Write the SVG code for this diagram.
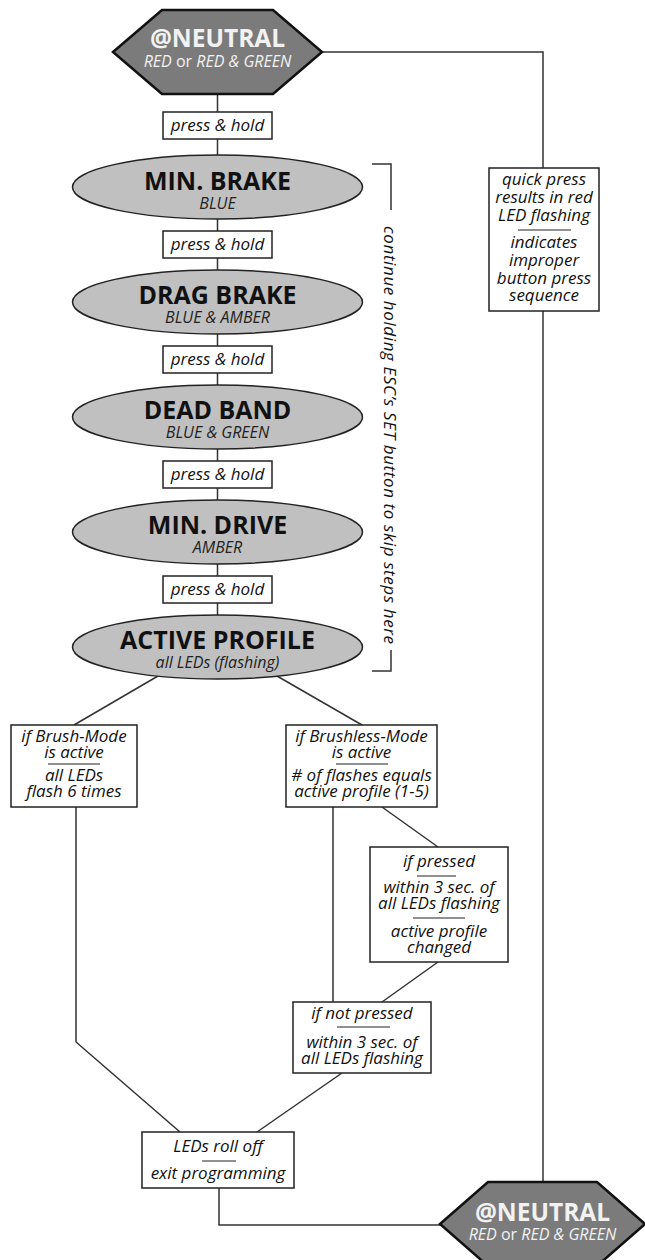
<svg xmlns="http://www.w3.org/2000/svg" width="645" height="1260" viewBox="0 0 645 1260">
<style>
.hex{fill:#7b7b7b;stroke:#111;stroke-width:2.5;stroke-linejoin:miter}
.ell{fill:#c0c0c0;stroke:#222;stroke-width:1.5}
.box{fill:#fff;stroke:#222;stroke-width:1.5}
.con{fill:none;stroke:#333;stroke-width:1.5}
.sep{stroke:#222;stroke-width:1.2}
.ht{font-family:"Open Sans","Liberation Sans",sans-serif;font-weight:bold;font-size:24.5px;fill:#f2f2f2;text-anchor:middle}
.hs{font-family:"Open Sans","Liberation Sans",sans-serif;font-style:italic;font-size:16px;fill:#f2f2f2;text-anchor:middle}
.up{font-style:normal}
.et{font-family:"Open Sans","Liberation Sans",sans-serif;font-weight:bold;font-size:25px;fill:#111;text-anchor:middle}
.es{font-family:"Open Sans","Liberation Sans",sans-serif;font-style:italic;font-size:16px;fill:#222;text-anchor:middle}
.lb{font-family:"Open Sans","Liberation Sans",sans-serif;font-style:italic;font-size:17px;fill:#111;text-anchor:middle}
</style>

<g id="connectors">
<path class="con" d="M217.5 93 V615"/>
<path class="con" d="M322 52 H543 V168"/>
<path class="con" d="M543 311 V1182"/>
<path class="con" d="M158 676 L74 725"/>
<path class="con" d="M277 676 L362 725"/>
<path class="con" d="M76 807 V1042 L180 1132"/>
<path class="con" d="M333 807 V1002"/>
<path class="con" d="M382 807 L438 847"/>
<path class="con" d="M438 962 L382 1002"/>
<path class="con" d="M342 1073 L257 1132"/>
<path class="con" d="M219 1188 V1225 H440"/>
</g>

<g id="bracket">
<path class="con" d="M372 164 H391 V210"/>
<path class="con" d="M391 650 V671 H372"/>
<text class="lb" transform="translate(384 435) rotate(90)" x="0" y="0" textLength="418" lengthAdjust="spacing">continue holding ESC’s SET button to skip steps here</text>
</g>

<g id="neutral-top">
<polygon class="hex" points="113,52 162,10 273,10 322,52 273,94 162,94"/>
<text class="ht" x="217.5" y="47">@NEUTRAL</text>
<text class="hs" x="217.5" y="67">RED <tspan class="up">or</tspan> RED &amp; GREEN</text>
</g>

<g id="ph1"><rect class="box" x="163" y="112" width="109" height="27"/><text class="lb" x="217.5" y="131">press &amp; hold</text></g>

<g id="min-brake">
<ellipse class="ell" cx="217.5" cy="187" rx="145" ry="32"/>
<text class="et" x="217.5" y="190">MIN. BRAKE</text>
<text class="es" x="217.5" y="209">BLUE</text>
</g>

<g id="ph2"><rect class="box" x="163" y="231" width="109" height="27"/><text class="lb" x="217.5" y="250">press &amp; hold</text></g>

<g id="drag-brake">
<ellipse class="ell" cx="217.5" cy="302" rx="145" ry="32"/>
<text class="et" x="217.5" y="304">DRAG BRAKE</text>
<text class="es" x="217.5" y="323">BLUE &amp; AMBER</text>
</g>

<g id="ph3"><rect class="box" x="163" y="346" width="109" height="27"/><text class="lb" x="217.5" y="365">press &amp; hold</text></g>

<g id="dead-band">
<ellipse class="ell" cx="217.5" cy="417" rx="145" ry="32"/>
<text class="et" x="217.5" y="419">DEAD BAND</text>
<text class="es" x="217.5" y="438">BLUE &amp; GREEN</text>
</g>

<g id="ph4"><rect class="box" x="163" y="461" width="109" height="27"/><text class="lb" x="217.5" y="480">press &amp; hold</text></g>

<g id="min-drive">
<ellipse class="ell" cx="217.5" cy="532" rx="145" ry="32"/>
<text class="et" x="217.5" y="534">MIN. DRIVE</text>
<text class="es" x="217.5" y="553">AMBER</text>
</g>

<g id="ph5"><rect class="box" x="163" y="576" width="109" height="27"/><text class="lb" x="217.5" y="595">press &amp; hold</text></g>

<g id="active-profile">
<ellipse class="ell" cx="217.5" cy="647" rx="145" ry="32"/>
<text class="et" x="217.5" y="649">ACTIVE PROFILE</text>
<text class="es" x="217.5" y="668">all LEDs (flashing)</text>
</g>

<g id="quick-press">
<rect class="box" x="489" y="168" width="110" height="143"/>
<text class="lb" x="544" y="185">quick press</text>
<text class="lb" x="544" y="203">results in red</text>
<text class="lb" x="544" y="221">LED flashing</text>
<line class="sep" x1="518" y1="230" x2="571" y2="230"/>
<text class="lb" x="544" y="248">indicates</text>
<text class="lb" x="544" y="266">improper</text>
<text class="lb" x="544" y="284">button press</text>
<text class="lb" x="544" y="301">sequence</text>
</g>

<g id="brush-mode">
<rect class="box" x="11" y="725" width="126" height="82"/>
<text class="lb" x="74" y="742">if Brush-Mode</text>
<text class="lb" x="74" y="758">is active</text>
<line class="sep" x1="48" y1="764" x2="100" y2="764"/>
<text class="lb" x="74" y="781">all LEDs</text>
<text class="lb" x="74" y="797">flash 6 times</text>
</g>

<g id="brushless-mode">
<rect class="box" x="286" y="725" width="151" height="82"/>
<text class="lb" x="361.5" y="742">if Brushless-Mode</text>
<text class="lb" x="361.5" y="758">is active</text>
<line class="sep" x1="336" y1="764" x2="388" y2="764"/>
<text class="lb" x="361.5" y="781"># of flashes equals</text>
<text class="lb" x="361.5" y="797">active profile (1-5)</text>
</g>

<g id="if-pressed">
<rect class="box" x="370" y="847" width="138" height="115"/>
<text class="lb" x="439" y="867">if pressed</text>
<line class="sep" x1="417" y1="876" x2="456" y2="876"/>
<text class="lb" x="439" y="893">within 3 sec. of</text>
<text class="lb" x="439" y="909">all LEDs flashing</text>
<line class="sep" x1="413" y1="918" x2="465" y2="918"/>
<text class="lb" x="439" y="937">active profile</text>
<text class="lb" x="439" y="953">changed</text>
</g>

<g id="if-not-pressed">
<rect class="box" x="293" y="1002" width="138" height="71"/>
<text class="lb" x="362" y="1019">if not pressed</text>
<line class="sep" x1="337" y1="1027" x2="390" y2="1027"/>
<text class="lb" x="362" y="1048">within 3 sec. of</text>
<text class="lb" x="362" y="1064">all LEDs flashing</text>
</g>

<g id="leds-roll-off">
<rect class="box" x="142" y="1132" width="152" height="56"/>
<text class="lb" x="218" y="1152">LEDs roll off</text>
<line class="sep" x1="202" y1="1161" x2="236" y2="1161"/>
<text class="lb" x="218" y="1179">exit programming</text>
</g>

<g id="neutral-bottom">
<polygon class="hex" points="440,1224 488,1182 597,1182 645,1224 597,1266 488,1266"/>
<text class="ht" x="542.5" y="1221">@NEUTRAL</text>
<text class="hs" x="542.5" y="1240">RED <tspan class="up">or</tspan> RED &amp; GREEN</text>
</g>
</svg>
